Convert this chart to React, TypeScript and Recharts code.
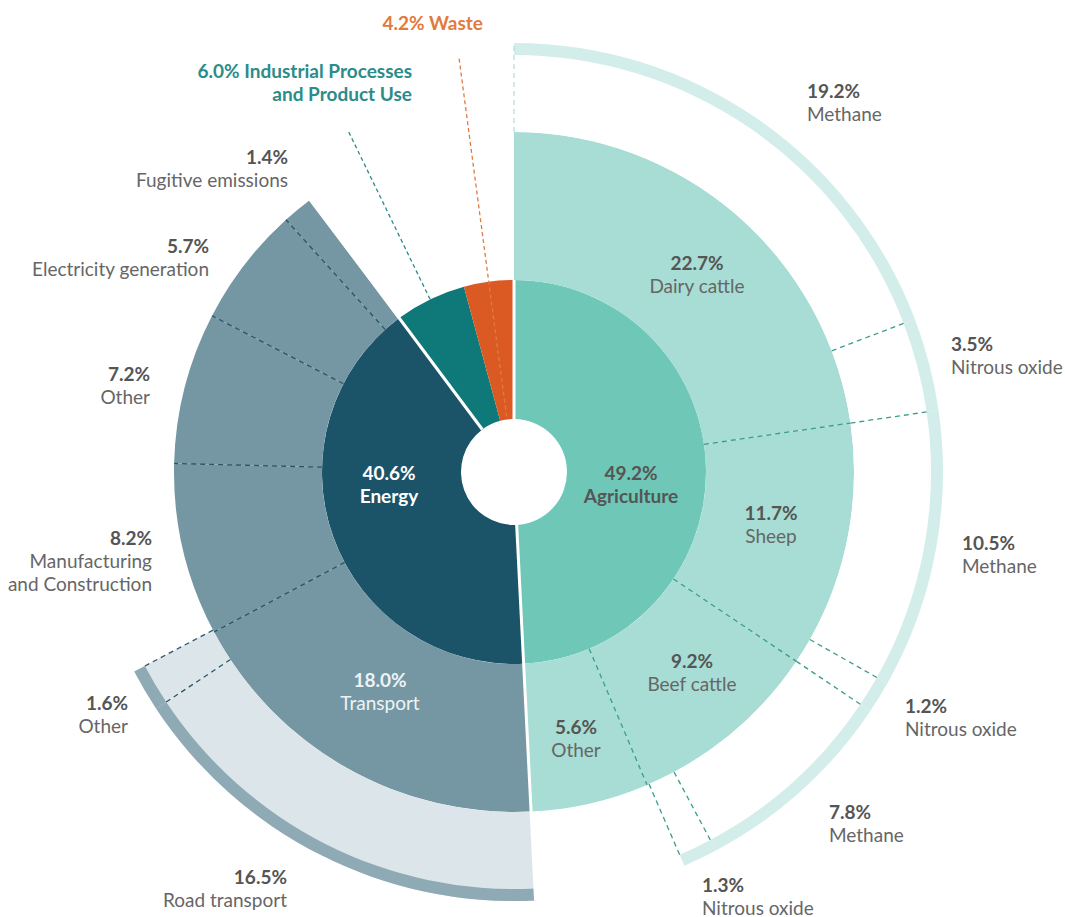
import React from 'react';
import { PieChart, Pie, Cell } from 'recharts';

// gross emissions share, % — inner ring
const sectors = ['Agriculture', 'Energy', 'Industrial Processes and Product Use', 'Waste'];
const sectorShares = [49.2, 40.6, 6.0, 4.2];

// middle ring
const agriSources = ['Dairy cattle', 'Sheep', 'Beef cattle', 'Other'];
const agriShares = [22.7, 11.7, 9.2, 5.6];
const energySources = ['Transport', 'Manufacturing and Construction', 'Other', 'Electricity generation', 'Fugitive emissions'];
const energyShares = [18.0, 8.2, 7.2, 5.7, 1.4];

// outer ring
const livestockGases = ['Methane', 'Nitrous oxide', 'Methane', 'Nitrous oxide', 'Methane', 'Nitrous oxide'];
const livestockGasShares = [19.2, 3.5, 10.5, 1.2, 7.8, 1.3];
const transportModes = ['Road transport', 'Other'];
const transportShares = [16.5, 1.6];

const W = 1065;
const H = 917;
const CX = 514;
const CY = 472;
const R_HOLE = 53;
const R_IN = 192;
const R_MID = 340;
const R_BAND = 417;
const R_OUT = 429;
const R_TICK = 419;
const DEG = 3.6; // degrees per percent
const FONT = 19;

const sectorColors = ['#6ec7b7', '#1b5369', '#0f7979', '#db5a24'];
const AGRI_MID = '#a7ddd4';
const AGRI_BAND = '#d3eeea';
const AGRI_DASH = '#3a9d8e';
const ENERGY_MID = '#7497a3';
const ENERGY_OUT = '#dce5e9';
const ENERGY_BAND = '#8eaab5';
const ENERGY_DASH = '#2a5569';
const TEXT_VAL = '#555';
const TEXT_NAME = '#666';

type Pos = [number, number, 'start' | 'middle' | 'end'];
// label anchors (x, y of first line, alignment)
const sectorLabelPos: Pos[] = [[631, 472, 'middle'], [389, 472, 'middle'], [412, 70, 'end'], [483, 22, 'end']];
const agriLabelPos: Pos[] = [[697, 262, 'middle'], [771, 512, 'middle'], [692, 660, 'middle'], [576, 726, 'middle']];
const energyLabelPos: Pos[] = [[380, 679, 'middle'], [152, 537, 'end'], [150, 373, 'end'], [209, 245, 'end'], [288, 156, 'end']];
const gasLabelPos: Pos[] = [[807, 90, 'start'], [951, 343, 'start'], [962, 542, 'start'], [905, 705, 'start'], [829, 811, 'start'], [702, 884, 'start']];
const transportLabelPos: Pos[] = [[287, 876, 'end'], [128, 702, 'end']];

const wrapped: Record<string, string[]> = {
  'Industrial Processes and Product Use': ['Industrial Processes', 'and Product Use'],
  'Manufacturing and Construction': ['Manufacturing', 'and Construction'],
};
const wrap = (s: string) => wrapped[s] || [s];

const toData = (names: string[], values: number[]) => names.map((name, i) => ({ name, value: values[i] }));
const sum = (a: number[]) => a.reduce((s, v) => s + v, 0);
const pct = (v: number) => `${v.toFixed(1)}%`;

const RAD = Math.PI / 180;
const polar = (cx: number, cy: number, r: number, angle: number) => ({
  x: cx + Math.cos(-angle * RAD) * r,
  y: cy + Math.sin(-angle * RAD) * r,
});

const radial = (cx: number, cy: number, angle: number, r0: number, r1: number, color: string, w = 1.3, dash = '5 4') => {
  const a = polar(cx, cy, r0, angle);
  const b = polar(cx, cy, r1, angle);
  return <line x1={a.x} y1={a.y} x2={b.x} y2={b.y} stroke={color} strokeWidth={w} strokeDasharray={dash} />;
};

type Line = { t: string; bold?: boolean; color: string };
const TextBlock = ({ pos, lines }: { pos: Pos; lines: Line[] }) => (
  <g>
    {lines.map((l, i) => (
      <text
        key={i}
        x={pos[0]}
        y={pos[1] + i * 23}
        textAnchor={pos[2]}
        dominantBaseline="central"
        fontFamily="Lato, sans-serif"
        fontSize={FONT}
        fontWeight={l.bold ? 700 : 400}
        fill={l.color}
      >
        {l.t}
      </text>
    ))}
  </g>
);

const valueName = (name: string, value: number, valColor = TEXT_VAL, nameColor = TEXT_NAME): Line[] => [
  { t: pct(value), bold: true, color: valColor },
  ...wrap(name).map((t) => ({ t, color: nameColor })),
];

const innerLabel = (p: any) => {
  const i = p.index;
  const name = p.payload?.name ?? p.name;
  const value = p.payload?.value ?? p.value;
  const pos = sectorLabelPos[i];
  if (i < 2) {
    const c = i === 0 ? TEXT_VAL : '#fff';
    return (
      <TextBlock pos={pos} lines={[{ t: pct(value), bold: true, color: c }, { t: name, bold: true, color: c }]} />
    );
  }
  const c = i === 2 ? '#2b8c89' : '#e27a3e';
  const parts = wrap(name);
  const lines: Line[] = [
    { t: `${pct(value)} ${parts[0]}`, bold: true, color: c },
    ...parts.slice(1).map((t) => ({ t, bold: true, color: c })),
  ];
  const leader = i === 2 ? [R_IN, 378] : [R_HOLE + 3, 417];
  return (
    <g>
      {radial(p.cx, p.cy, p.midAngle, leader[0], leader[1], c, 1.3, '4 3')}
      <TextBlock pos={pos} lines={lines} />
    </g>
  );
};

const agriLabel = (p: any) => (
  <g>
    {p.index > 0 && radial(p.cx, p.cy, p.startAngle, R_IN, R_MID, AGRI_DASH)}
    <TextBlock pos={agriLabelPos[p.index]} lines={valueName(p.payload?.name ?? p.name, p.payload?.value ?? p.value)} />
  </g>
);

const energyLabel = (p: any) => {
  const inside = p.index === 0;
  return (
    <g>
      {p.index > 0 && radial(p.cx, p.cy, p.startAngle, R_IN, R_MID, ENERGY_DASH)}
      <TextBlock
        pos={energyLabelPos[p.index]}
        lines={valueName(
          p.payload?.name ?? p.name,
          p.payload?.value ?? p.value,
          inside ? '#eef3f5' : TEXT_VAL,
          inside ? '#eef3f5' : TEXT_NAME,
        )}
      />
    </g>
  );
};

const gasLabel = (p: any) => (
  <g>
    {p.index === 0 && radial(p.cx, p.cy, p.startAngle, R_MID, R_OUT, '#b5e1d9')}
    {radial(p.cx, p.cy, p.endAngle, R_MID, R_TICK, AGRI_DASH)}
    <TextBlock pos={gasLabelPos[p.index]} lines={valueName(p.payload?.name ?? p.name, p.payload?.value ?? p.value)} />
  </g>
);

const transportLabel = (p: any) => (
  <g>
    {radial(p.cx, p.cy, p.endAngle, R_MID, R_TICK, ENERGY_DASH)}
    <TextBlock
      pos={transportLabelPos[p.index]}
      lines={valueName(p.payload?.name ?? p.name, p.payload?.value ?? p.value)}
    />
  </g>
);

// white gaps between the main sectors
const separatorReach = [R_IN, R_OUT, R_MID, 0];
const separatorLabel = (p: any) =>
  separatorReach[p.index] ? radial(p.cx, p.cy, p.startAngle, R_HOLE, separatorReach[p.index], '#fff', 3, 'none') : <g />;

export default function App() {
  const sectorData = toData(sectors, sectorShares);
  const agriData = toData(agriSources, agriShares);
  const energyData = toData(energySources, energyShares);
  const gasData = toData(livestockGases, livestockGasShares);
  const transportData = toData(transportModes, transportShares);

  const agriStart = 90;
  const energyStart = agriStart - sectorShares[0] * DEG;

  return (
    <div style={{ position: 'absolute', left: 0, top: 0, width: W, height: H, background: '#fff' }}>
      <PieChart width={W} height={H} margin={{ top: 0, right: 0, bottom: 0, left: 0 }}>
        <Pie
          data={sectorData}
          dataKey="value"
          nameKey="name"
          cx={CX}
          cy={CY}
          innerRadius={R_HOLE}
          outerRadius={R_IN}
          startAngle={90}
          endAngle={-270}
          stroke="none"
          label={innerLabel}
          labelLine={false}
          isAnimationActive={false}
        >
          {sectorData.map((d, i) => (
            <Cell key={d.name} fill={sectorColors[i]} />
          ))}
        </Pie>
        <Pie
          data={agriData}
          dataKey="value"
          nameKey="name"
          cx={CX}
          cy={CY}
          innerRadius={R_IN}
          outerRadius={R_MID}
          startAngle={agriStart}
          endAngle={agriStart - sum(agriShares) * DEG}
          fill={AGRI_MID}
          stroke="none"
          label={agriLabel}
          labelLine={false}
          isAnimationActive={false}
        />
        <Pie
          data={energyData}
          dataKey="value"
          nameKey="name"
          cx={CX}
          cy={CY}
          innerRadius={R_IN}
          outerRadius={R_MID}
          startAngle={energyStart}
          endAngle={energyStart - sum(energyShares) * DEG}
          fill={ENERGY_MID}
          stroke="none"
          label={energyLabel}
          labelLine={false}
          isAnimationActive={false}
        />
        <Pie
          data={gasData}
          dataKey="value"
          nameKey="name"
          cx={CX}
          cy={CY}
          innerRadius={R_MID}
          outerRadius={R_OUT}
          startAngle={agriStart}
          endAngle={agriStart - sum(livestockGasShares) * DEG}
          fill="#fff"
          stroke="none"
          label={gasLabel}
          labelLine={false}
          isAnimationActive={false}
        />
        <Pie
          data={gasData}
          dataKey="value"
          nameKey="name"
          cx={CX}
          cy={CY}
          innerRadius={R_BAND}
          outerRadius={R_OUT}
          startAngle={agriStart}
          endAngle={agriStart - sum(livestockGasShares) * DEG}
          fill={AGRI_BAND}
          stroke="none"
          isAnimationActive={false}
        />
        <Pie
          data={transportData}
          dataKey="value"
          nameKey="name"
          cx={CX}
          cy={CY}
          innerRadius={R_MID}
          outerRadius={R_OUT}
          startAngle={energyStart}
          endAngle={energyStart - sum(transportShares) * DEG}
          fill={ENERGY_OUT}
          stroke="none"
          label={transportLabel}
          labelLine={false}
          isAnimationActive={false}
        />
        <Pie
          data={transportData}
          dataKey="value"
          nameKey="name"
          cx={CX}
          cy={CY}
          innerRadius={R_BAND}
          outerRadius={R_OUT}
          startAngle={energyStart}
          endAngle={energyStart - sum(transportShares) * DEG}
          fill={ENERGY_BAND}
          stroke="none"
          isAnimationActive={false}
        />
        <Pie
          data={sectorData}
          dataKey="value"
          nameKey="name"
          cx={CX}
          cy={CY}
          innerRadius={R_HOLE}
          outerRadius={R_IN}
          startAngle={90}
          endAngle={-270}
          fill="none"
          stroke="none"
          label={separatorLabel}
          labelLine={false}
          isAnimationActive={false}
        />
      </PieChart>
    </div>
  );
}
